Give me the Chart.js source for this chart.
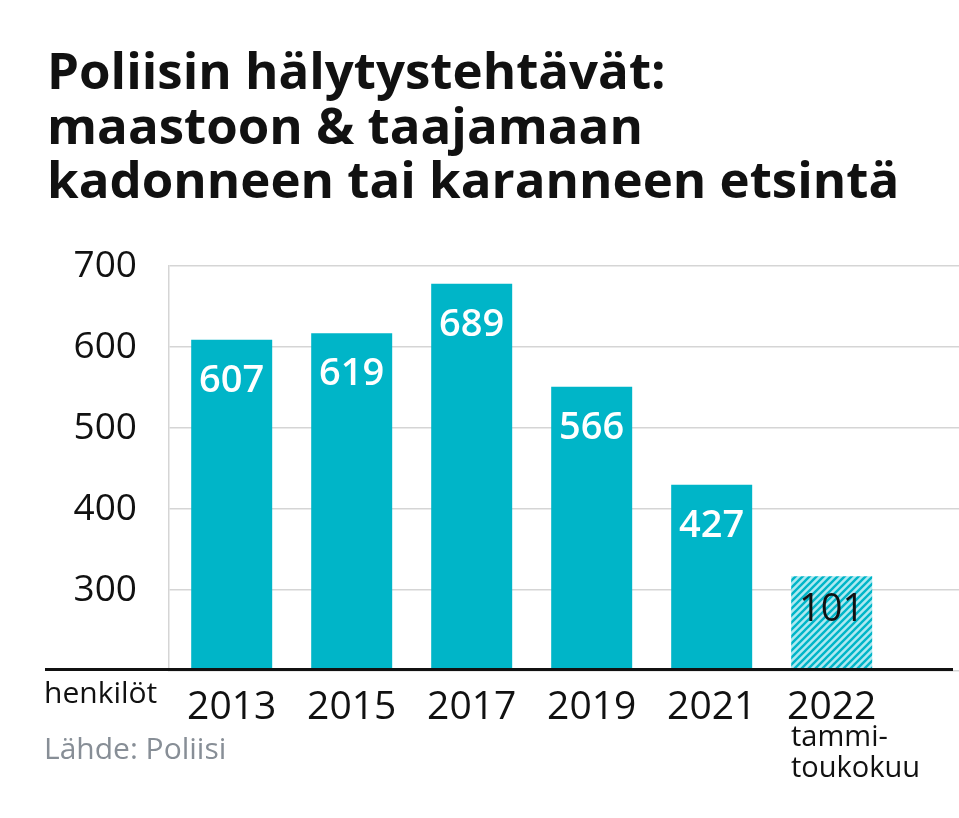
<!DOCTYPE html>
<html>
<head>
<meta charset="utf-8">
<script src="https://cdn.jsdelivr.net/npm/chart.js@4/dist/chart.umd.min.js"></script>
<style>
  html, body { margin: 0; padding: 0; background: #fff; }
  body { width: 959px; height: 818px; position: relative; overflow: hidden; font-family: "Open Sans", sans-serif; }
  #wrap { position: absolute; left: 0; top: 0; width: 959px; height: 818px; }
  .title { position: absolute; left: 47px; top: 42px; font-size: 51px; line-height: 54.5px; font-weight: 700; color: #111; margin: 0; }
  .unit { position: absolute; left: 44px; top: 671px; font-size: 30px; color: #111; }
  .source { position: absolute; left: 44px; top: 727px; font-size: 30px; color: #878e96; }
  .note { position: absolute; left: 791px; top: 719px; font-size: 29px; line-height: 31px; color: #111; }
</style>
</head>
<body>
<div id="wrap"><canvas id="chart" width="959" height="818"></canvas></div>
<h1 class="title">Poliisin hälytystehtävät:<br>maastoon &amp; taajamaan<br>kadonneen tai karanneen etsintä</h1>
<div class="unit">henkilöt</div>
<div class="source">Lähde: Poliisi</div>
<div class="note">tammi-<br>toukokuu</div>
<script>
// years on the x axis
const years = ['2013', '2015', '2017', '2019', '2021', '2022'];
// bar heights as drawn (axis is cut at 200, last bar is partial year)
const barHeights = [609, 617, 678, 551, 430, 317];
// numbers printed on the bars
const valueLabels = ['607', '619', '689', '566', '427', '101'];
const yTicks = [200, 300, 400, 500, 600, 700];

const barColor = '#00b5c8';

function hatch() {
    const c = document.createElement('canvas');
    c.width = 7; c.height = 7;
    const g = c.getContext('2d');
    g.fillStyle = '#aee9f1';
    g.fillRect(0, 0, 7, 7);
    g.strokeStyle = barColor;
    g.lineWidth = 2.4;
    g.beginPath();
    g.moveTo(-1, 8); g.lineTo(8, -1);
    g.moveTo(-2, 2); g.lineTo(2, -2);
    g.moveTo(5, 9); g.lineTo(9, 5);
    g.stroke();
    return g.createPattern(c, 'repeat');
}

// value labels inside bars + heavy base line
const extras = {
    id: 'extras',
    afterDatasetsDraw(chart) {
        const ctx = chart.ctx;
        const y = chart.scales.y;
        const base = y.getPixelForValue(yTicks[0]);
        ctx.save();
        ctx.strokeStyle = '#111';
        ctx.lineWidth = 3;
        ctx.beginPath();
        ctx.moveTo(45, base - 1.5);
        ctx.lineTo(953, base - 1.5);
        ctx.stroke();

        ctx.textAlign = 'center';
        ctx.textBaseline = 'middle';
        chart.getDatasetMeta(0).data.forEach((bar, i) => {
            const last = i === years.length - 1;
            ctx.fillStyle = last ? '#111' : '#fff';
            ctx.font = (last ? '400' : '600') + ' 38px "Open Sans"';
            ctx.fillText(valueLabels[i], bar.x, bar.y + (last ? 34 : 41));
        });
        ctx.restore();
    }
};

const pattern = hatch();

new Chart(document.getElementById('chart'), {
    type: 'bar',
    data: {
        datasets: [{
            data: barHeights.map((v, i) => ({ x: i, y: v })),
            backgroundColor: barHeights.map((v, i) => i === years.length - 1 ? pattern : barColor),
            borderWidth: 0,
            barPercentage: 0.675,
            categoryPercentage: 1
        }]
    },
    options: {
        responsive: false,
        animation: false,
        layout: { padding: { left: 49, right: 0, top: 266, bottom: 77 } },
        plugins: { legend: { display: false }, tooltip: { enabled: false } },
        scales: {
            x: {
                type: 'linear',
                offset: false,
                min: -0.5225,
                max: 6.061,
                grid: { display: false, offset: false },
                border: { display: false },
                afterBuildTicks: s => { s.ticks = years.map((_, i) => ({ value: i })); },
                afterFit: s => { s.height = 70; },
                ticks: {
                    autoSkip: false,
                    maxRotation: 0,
                    padding: 5,
                    color: '#111',
                    font: { family: 'Open Sans', size: 39 },
                    callback: v => years[v]
                }
            },
            y: {
                min: 200,
                max: 700,
                afterBuildTicks: s => { s.ticks = yTicks.map(v => ({ value: v })); },
                afterFit: s => { s.width = 120; },
                grid: { color: '#d5d5d5', lineWidth: 1.5, drawTicks: false },
                border: { display: true, color: '#d5d5d5', width: 1.5 },
                ticks: {
                    padding: 32,
                    color: '#111',
                    font: { family: 'Open Sans', size: 37 },
                    callback: v => v === 200 ? '' : v
                }
            }
        }
    },
    plugins: [extras]
});
</script>
</body>
</html>
